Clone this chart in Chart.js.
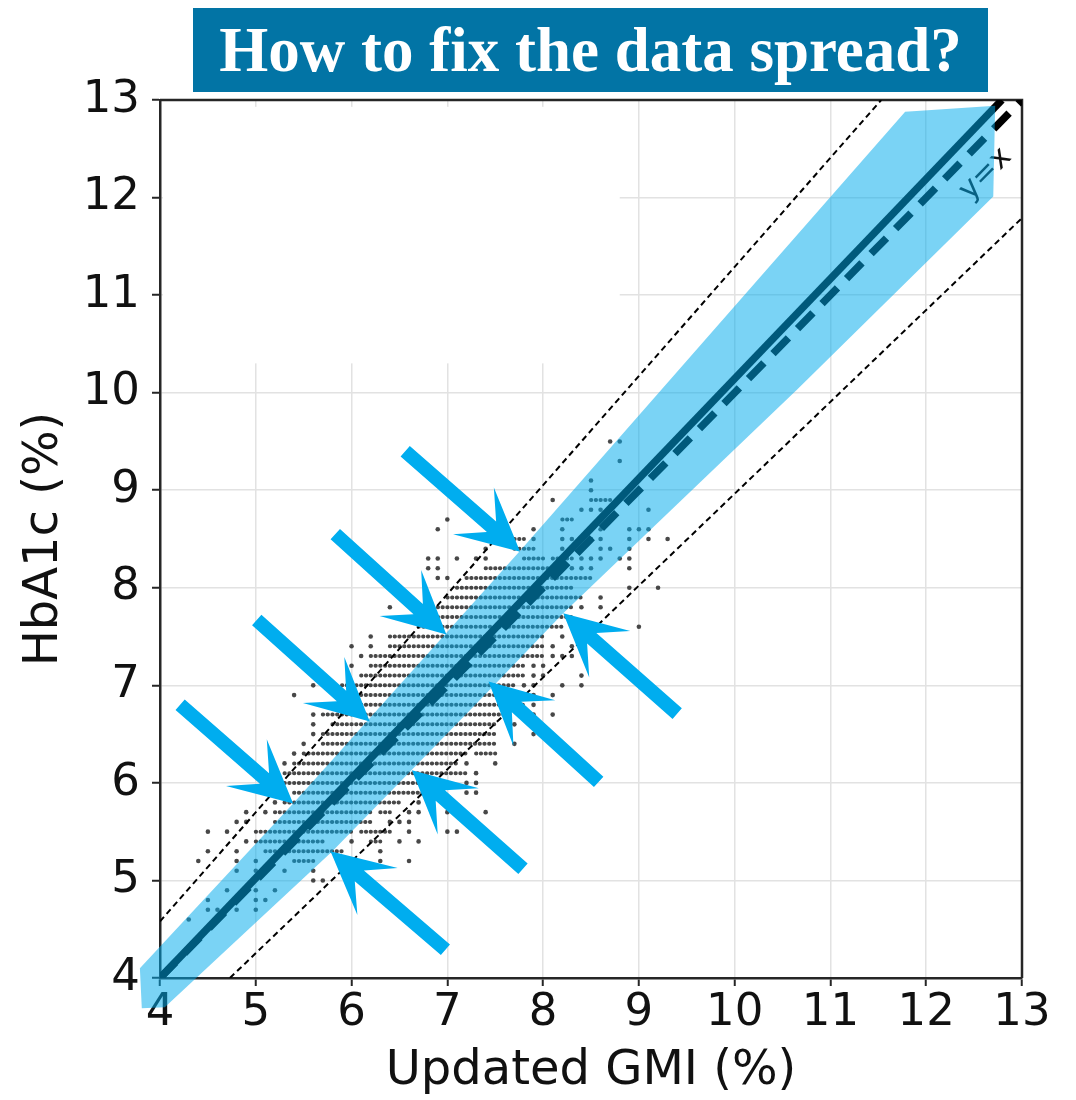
<!DOCTYPE html>
<html>
<head>
<meta charset="utf-8">
<script src="https://cdn.jsdelivr.net/npm/chart.js@4.4.1/dist/chart.umd.min.js"></script>
<style>
  html, body { margin: 0; padding: 0; background: #fff; }
  #wrap { position: relative; width: 1076px; height: 1100px; }
  #chart { position: absolute; left: 0; top: 0; }
  #title {
    position: absolute; left: 193px; top: 8px; width: 795px; height: 84px;
    background: #0274a5; color: #fff;
    font: bold 63px "Liberation Serif", "DejaVu Serif", serif;
    display: flex; align-items: center; justify-content: center;
  }
</style>
</head>
<body>
<div id="wrap">
  <canvas id="chart" width="1076" height="1100"></canvas>
  <div id="title">How to fix the data spread?</div>
</div>
<script>
// axis ticks (both axes share the same range)
const axisTicks = [4, 5, 6, 7, 8, 9, 10, 11, 12, 13];

// y = x reference line
const identityX = [4, 13];
const identityY = [4, 13];

// fitted line (solid)
const fitX = [4, 12.79];
const fitY = [4, 13];

// thin dashed limits
const upperX = [4, 11.53];
const upperY = [4.58, 13];
const lowerX = [4.73, 13];
const lowerY = [4, 11.79];

// blue band outline (polygon, clockwise from lower-left)
const bandX = [3.79, 5.39, 7.76, 11.78, 12.72, 12.70, 10.65, 8.21, 7.34, 5.80, 4.05, 3.81];
const bandY = [4.10, 5.79, 8.38, 12.88, 12.94, 12.01, 10.03, 7.74, 6.85, 5.30, 3.70, 3.69];

// rows of dense dots: each run goes from runFrom to runTo at height runY
const runY    = [5.2, 5.3, 5.4, 5.4, 5.5, 5.5, 5.6, 5.7, 5.7, 5.8, 5.9, 6.0, 6.1, 6.2, 6.3, 6.3, 6.4, 6.5,
                 6.6, 6.7, 6.8, 6.9, 7.0, 7.1, 7.2, 7.3, 7.4, 7.5, 7.6, 7.7, 7.8, 7.9, 8.0, 8.1, 8.2, 8.3,
                 8.3, 8.4, 8.5, 8.7, 8.9];
const runFrom = [5.4, 5.1, 5.0, 6.2, 5.0, 6.1, 5.2, 5.2, 6.3, 5.3, 5.4, 5.3, 5.3, 5.4, 5.5, 7.3, 5.7, 5.7,
                 5.8, 5.7, 6.0, 5.9, 5.9, 6.1, 6.2, 6.2, 6.4, 6.4, 6.7, 6.9, 6.9, 7.0, 7.1, 7.2, 7.4, 7.8,
                 8.1, 7.7, 7.7, 8.2, 8.5];
const runTo   = [5.6, 5.9, 5.7, 6.3, 6.0, 6.4, 6.2, 6.2, 6.4, 6.5, 6.8, 7.0, 7.2, 7.1, 7.2, 7.5, 7.5, 7.5,
                 7.5, 7.6, 7.8, 7.7, 7.7, 7.8, 7.8, 8.0, 8.0, 8.0, 8.2, 8.3, 8.3, 8.4, 8.3, 8.5, 8.1, 8.0,
                 8.3, 7.9, 7.8, 8.3, 8.7];

// scattered single dots
const looseX = [4.3,
  4.5, 4.6, 4.8, 5.0,   4.5, 5.0, 5.1,   4.7, 5.0, 5.2,   5.6, 5.7,
  4.8, 5.0, 5.3, 5.6,   4.4, 4.8, 5.0, 6.3, 6.6,   4.5, 4.8, 6.3,   4.9, 6.0, 6.5, 6.7,
  4.5, 4.7, 6.6, 7.0, 7.1,   4.8, 4.9, 6.4, 6.5, 6.6,   4.9, 5.1, 6.6, 6.7, 7.0, 7.4,
  5.2, 6.7,   5.2, 7.2, 7.3,   7.2, 7.3,   7.3,   5.3, 7.2, 7.5,   5.4,   5.5, 7.7,   5.6, 7.9,
  5.6, 7.7, 7.9,   5.6, 7.8, 7.9, 8.1,   7.9,   5.4, 7.8, 7.9, 8.1,   5.6, 7.8, 7.9, 8.2, 8.4,
  7.9, 8.0, 8.4,   6.0, 7.9, 8.0,   6.1, 8.1, 8.2, 8.3,   6.0, 6.2, 8.1, 8.3,   6.2, 8.2,   9.0,
  6.4, 8.4, 8.6,   8.6,   8.9, 9.2,   6.9, 7.0,   6.8, 6.9, 8.3, 8.4, 8.5, 8.9,
  6.8, 6.9, 7.1, 7.3, 7.4, 8.4, 8.5, 8.6, 8.8, 8.9,   7.4, 8.2, 8.4, 8.6, 8.7, 8.9,
  7.9, 8.2, 8.3, 8.5, 8.6, 8.9, 9.1, 9.3,   6.9, 7.9, 8.2, 8.5, 8.6, 8.9, 9.0, 9.1,
  7.0, 8.6,   8.4, 8.5, 8.6, 9.1,   8.1,   8.5,   8.5,   8.8,   8.7, 8.8];
const looseY = [4.6,
  4.7, 4.7, 4.7, 4.7,   4.8, 4.8, 4.8,   4.9, 4.9, 4.9,   5.0, 5.0,
  5.1, 5.1, 5.1, 5.1,   5.2, 5.2, 5.2, 5.2, 5.2,   5.3, 5.3, 5.3,   5.4, 5.4, 5.4, 5.4,
  5.5, 5.5, 5.5, 5.5, 5.5,   5.6, 5.6, 5.6, 5.6, 5.6,   5.7, 5.7, 5.7, 5.7, 5.7, 5.7,
  5.8, 5.8,   5.9, 5.9, 5.9,   6.0, 6.0,   6.1,   6.2, 6.2, 6.2,   6.3,   6.4, 6.4,   6.5, 6.5,
  6.6, 6.6, 6.6,   6.7, 6.7, 6.7, 6.7,   6.8,   6.9, 6.9, 6.9, 6.9,   7.0, 7.0, 7.0, 7.0, 7.0,
  7.1, 7.1, 7.1,   7.2, 7.2, 7.2,   7.3, 7.3, 7.3, 7.3,   7.4, 7.4, 7.4, 7.4,   7.5, 7.5,   7.6,
  7.8, 7.8, 7.8,   7.9,   8.0, 8.0,   8.1, 8.1,   8.2, 8.2, 8.2, 8.2, 8.2, 8.2,
  8.3, 8.3, 8.3, 8.3, 8.3, 8.3, 8.3, 8.3, 8.3, 8.3,   8.4, 8.4, 8.4, 8.4, 8.4, 8.4,
  8.5, 8.5, 8.5, 8.5, 8.5, 8.5, 8.5, 8.5,   8.6, 8.6, 8.6, 8.6, 8.6, 8.6, 8.6, 8.6,
  8.7, 8.7,   8.8, 8.8, 8.8, 8.8,   8.9,   9.0,   9.1,   9.3,   9.5, 9.5];

// arrows: tail -> tip
const arrowTailX = [6.56, 5.83, 5.01, 4.21, 6.98, 7.79, 9.40, 8.58];
const arrowTailY = [9.40, 8.55, 7.67, 6.80, 4.29, 5.12, 6.71, 6.01];
const arrowTipX  = [7.76, 6.99, 6.19, 5.39, 5.78, 6.63, 8.21, 7.43];
const arrowTipY  = [8.37, 7.52, 6.63, 5.79, 5.30, 6.13, 7.74, 7.04];

// label of the y = x line
const identityLabel = { text: 'y=x', x: 12.62, y: 12.24 };

const zip = (xs, ys) => xs.map((x, i) => ({ x: x, y: ys[i] }));

const runPoints = [];
runY.forEach((y, i) => {
  runPoints.push({ x: runFrom[i], y: y }, { x: runTo[i], y: y }, { x: runTo[i], y: null });
});

const arrowPoints = [];
arrowTailX.forEach((x, i) => {
  arrowPoints.push({ x: x, y: arrowTailY[i] }, { x: arrowTipX[i], y: arrowTipY[i] });
});

const dotColor = 'rgba(40,40,40,0.85)';
const arrowColor = '#00adef';
const fontFamily = '"DejaVu Sans", sans-serif';

// fill the band polygon right after its (invisible) dataset is drawn
const bandFill = {
  id: 'bandFill',
  afterDatasetDraw(chart, args) {
    const ds = chart.data.datasets[args.index];
    if (ds.label !== 'band') return;
    const ctx = chart.ctx;
    ctx.save();
    ctx.beginPath();
    args.meta.data.forEach((p, i) => (i ? ctx.lineTo(p.x, p.y) : ctx.moveTo(p.x, p.y)));
    ctx.closePath();
    ctx.fillStyle = ds.backgroundColor;
    ctx.fill();
    ctx.restore();
  }
};

function drawArrow(ctx, a, b) {
  const dx = b.x - a.x, dy = b.y - a.y;
  const len = Math.hypot(dx, dy);
  const ux = dx / len, uy = dy / len, nx = -uy, ny = ux;
  const headLen = 62, headHalf = 31, notch = 38, half = 7;
  const P = (s, t) => [b.x + ux * s + nx * t, b.y + uy * s + ny * t];
  const pts = [P(0, 0), P(-headLen, headHalf), P(-notch, half), P(-len, half),
               P(-len, -half), P(-notch, -half), P(-headLen, -headHalf)];
  ctx.beginPath();
  pts.forEach((p, i) => (i ? ctx.lineTo(p[0], p[1]) : ctx.moveTo(p[0], p[1])));
  ctx.closePath();
  ctx.fill();
}

const arrowDraw = {
  id: 'arrowDraw',
  afterDatasetsDraw(chart) {
    const idx = chart.data.datasets.findIndex(d => d.label === 'arrows');
    const pts = chart.getDatasetMeta(idx).data;
    const ctx = chart.ctx;
    ctx.save();
    ctx.fillStyle = arrowColor;
    for (let i = 0; i + 1 < pts.length; i += 2) drawArrow(ctx, pts[i], pts[i + 1]);
    ctx.restore();
  }
};

// top/right spines, the blank patch in the grid and the "y=x" text
const frame = {
  id: 'frame',
  beforeDatasetsDraw(chart) {
    const { ctx, chartArea: a, scales: { x, y } } = chart;
    ctx.save();
    ctx.fillStyle = '#fff';
    const gx0 = x.getPixelForValue(4.03), gx1 = x.getPixelForValue(8.8);
    const gy0 = y.getPixelForValue(12.93), gy1 = y.getPixelForValue(10.3);
    ctx.fillRect(gx0, gy0, gx1 - gx0, gy1 - gy0);

    ctx.strokeStyle = '#262626';
    ctx.lineWidth = 2.5;
    ctx.beginPath();
    ctx.moveTo(a.left, a.top);
    ctx.lineTo(a.right, a.top);
    ctx.lineTo(a.right, a.bottom);
    ctx.stroke();

    const ang = Math.atan2(y.getPixelForValue(13) - y.getPixelForValue(4),
                           x.getPixelForValue(13) - x.getPixelForValue(4));
    ctx.translate(x.getPixelForValue(identityLabel.x), y.getPixelForValue(identityLabel.y));
    ctx.rotate(ang);
    ctx.font = '30px ' + fontFamily;
    ctx.fillStyle = '#111';
    ctx.textAlign = 'center';
    ctx.textBaseline = 'middle';
    ctx.fillText(identityLabel.text, 0, 0);
    ctx.restore();
  }
};

const axisBase = (titleText, titlePad) => ({
  type: 'linear',
  min: 4,
  max: 13,
  afterBuildTicks: s => { s.ticks = axisTicks.map(v => ({ value: v })); },
  ticks: { color: '#111', font: { family: fontFamily, size: 45 } },
  grid: { color: '#e2e2e2', lineWidth: 1.5, tickColor: '#262626', tickLength: 8, tickWidth: 2 },
  border: { color: '#262626', width: 2.5 },
  title: { display: true, text: titleText, color: '#111', font: { family: fontFamily, size: 48 }, padding: titlePad }
});

const xAxis = axisBase('Updated GMI (%)', { top: 0, bottom: 0 });
xAxis.ticks.padding = 0;
xAxis.afterFit = s => { s.height = 122; };
const yAxis = axisBase('HbA1c (%)', { top: 16, bottom: 0 });
yAxis.ticks.padding = 12;
yAxis.afterFit = s => { s.width = 160; };

new Chart(document.getElementById('chart'), {
  type: 'scatter',
  data: {
    datasets: [
      { label: 'arrows', data: arrowPoints, pointRadius: 0, showLine: false, order: 0 },
      { label: 'band', data: zip(bandX, bandY), pointRadius: 0, showLine: false,
        backgroundColor: 'rgba(0,171,235,0.52)', order: 1 },
      { label: 'fit', data: zip(fitX, fitY), showLine: true, borderColor: '#000',
        borderWidth: 7.5, pointRadius: 0, order: 2 },
      { label: 'y=x', data: zip(identityX, identityY), showLine: true, borderColor: '#000',
        borderWidth: 7.5, borderDash: [22, 13], pointRadius: 0, order: 3 },
      { label: 'upper', data: zip(upperX, upperY), showLine: true, borderColor: '#000',
        borderWidth: 2, borderDash: [6, 4], pointRadius: 0, order: 4 },
      { label: 'lower', data: zip(lowerX, lowerY), showLine: true, borderColor: '#000',
        borderWidth: 2, borderDash: [6, 4], pointRadius: 0, order: 4 },
      { label: 'runs', data: runPoints, showLine: true, spanGaps: false, borderColor: dotColor,
        borderWidth: 4, borderDash: [0.3, 4.45], borderCapStyle: 'round', pointRadius: 0, order: 5 },
      { label: 'loose', data: zip(looseX, looseY), pointRadius: 2.3, backgroundColor: dotColor,
        borderWidth: 0, order: 6 }
    ]
  },
  options: {
    responsive: false,
    animation: false,
    events: [],
    layout: { padding: { top: 100, right: 54, left: 0, bottom: 0 } },
    plugins: { legend: { display: false }, tooltip: { enabled: false } },
    scales: { x: xAxis, y: yAxis }
  },
  plugins: [frame, bandFill, arrowDraw]
});
</script>
</body>
</html>
